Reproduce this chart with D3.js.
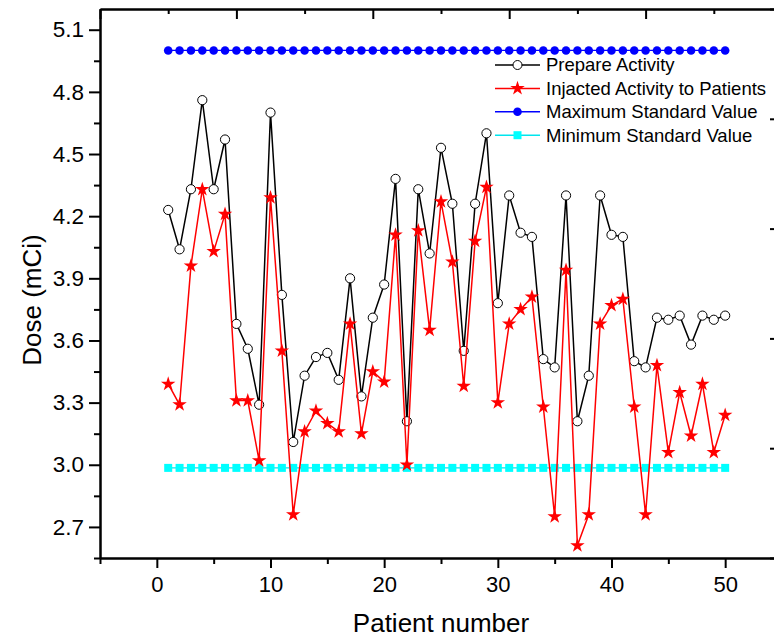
<!DOCTYPE html>
<html>
<head>
<meta charset="utf-8">
<script src="https://cdn.jsdelivr.net/npm/d3@7"></script>
<style>
  body { margin: 0; background: #fff; }
  svg { display: block; font-family: "Liberation Sans", Arial, sans-serif; }
</style>
</head>
<body>
<div class="DoseChart"></div>
<script>
// patient numbers and the two measured series (mCi)
const patients = d3.range(1, 51);
const prepareActivity = [
  4.23, 4.04, 4.33, 4.76, 4.33, 4.57, 3.68, 3.56, 3.29, 4.70,
  3.82, 3.11, 3.43, 3.52, 3.54, 3.41, 3.90, 3.33, 3.71, 3.87,
  4.38, 3.21, 4.33, 4.02, 4.53, 4.26, 3.55, 4.26, 4.60, 3.78,
  4.30, 4.12, 4.10, 3.51, 3.47, 4.30, 3.21, 3.43, 4.30, 4.11,
  4.10, 3.50, 3.47, 3.71, 3.70, 3.72, 3.58, 3.72, 3.70, 3.72
];
const injectedActivity = [
  3.39, 3.29, 3.96, 4.33, 4.03, 4.21, 3.31, 3.31, 3.02, 4.29,
  3.55, 2.76, 3.16, 3.26, 3.20, 3.16, 3.68, 3.15, 3.45, 3.40,
  4.11, 3.00, 4.13, 3.65, 4.27, 3.98, 3.38, 4.08, 4.34, 3.30,
  3.68, 3.75, 3.81, 3.28, 2.75, 3.94, 2.61, 2.76, 3.68, 3.77,
  3.80, 3.28, 2.76, 3.48, 3.06, 3.35, 3.14, 3.39, 3.06, 3.24
];
const maxStandard = patients.map(() => 5.0);
const minStandard = patients.map(() => 2.985);

const xMajorTicks = [0, 10, 20, 30, 40, 50];
const xMinorTicks = [-5, 5, 15, 25, 35, 45, 55];
const yMajorTicks = [2.7, 3.0, 3.3, 3.6, 3.9, 4.2, 4.5, 4.8, 5.1];
const yMinorTicks = [2.55, 2.85, 3.15, 3.45, 3.75, 4.05, 4.35, 4.65, 4.95];
const legendLabels = [
  "Prepare Activity",
  "Injacted Activity to Patients",
  "Maximum Standard Value",
  "Minimum Standard Value"
];

const width = 774, height = 640;
const margin = { top: 9, right: -8, bottom: 82, left: 100 };
const plotW = width - margin.left - margin.right;
const plotH = height - margin.top - margin.bottom;

const x = d3.scaleLinear().domain([-5, 55]).range([0, plotW]);
const y = d3.scaleLinear().domain([2.55, 5.2]).range([plotH, 0]);
// secondary (unlabelled) frame axes on top and right
const xTop = d3.scaleLinear().domain([0, 10]).range([0, plotW]);
const yRight = d3.scaleLinear().domain([0, 5]).range([plotH, 0]);

const svg = d3.select(".DoseChart")
  .append("svg")
  .attr("width", width)
  .attr("height", height);

const g = svg.append("g")
  .attr("transform", `translate(${margin.left},${margin.top})`);

function styleAxis(sel) {
  sel.select(".domain").attr("stroke", "#000").attr("stroke-width", 2);
  sel.selectAll(".tick line").attr("stroke", "#000").attr("stroke-width", 2);
  sel.selectAll("text").attr("fill", "#000");
}

// bottom axis
g.append("g")
  .attr("transform", `translate(0,${plotH})`)
  .call(d3.axisBottom(x).tickValues(xMinorTicks).tickSize(6).tickFormat("").tickSizeOuter(0))
  .call(styleAxis);
g.append("g")
  .attr("transform", `translate(0,${plotH})`)
  .call(d3.axisBottom(x).tickValues(xMajorTicks).tickSize(10).tickPadding(8).tickFormat(d3.format("d")).tickSizeOuter(0))
  .call(styleAxis)
  .selectAll("text")
  .style("font-size", "22px");

// left axis
g.append("g")
  .call(d3.axisLeft(y).tickValues(yMinorTicks).tickSize(6).tickFormat("").tickSizeOuter(0))
  .call(styleAxis);
g.append("g")
  .call(d3.axisLeft(y).tickValues(yMajorTicks).tickSize(11).tickPadding(5).tickFormat(d3.format(".1f")).tickSizeOuter(0))
  .call(styleAxis)
  .selectAll("text")
  .style("font-size", "22.5px");

// top axis, ticks pointing in
g.append("g")
  .call(d3.axisBottom(xTop).tickValues([1, 3, 5, 7, 9]).tickSize(5).tickFormat("").tickSizeOuter(0))
  .call(styleAxis);
g.append("g")
  .call(d3.axisBottom(xTop).tickValues([0, 2, 4, 6, 8, 10]).tickSize(10).tickFormat("").tickSizeOuter(0))
  .call(styleAxis);

// right axis (sits just past the page edge)
g.append("g")
  .attr("transform", `translate(${plotW},0)`)
  .call(d3.axisLeft(yRight).ticks(5).tickSize(12).tickFormat("").tickSizeOuter(0))
  .call(styleAxis);

// axis titles
svg.append("text")
  .attr("x", 441)
  .attr("y", 632)
  .attr("text-anchor", "middle")
  .style("font-size", "26px")
  .text("Patient number");

svg.append("text")
  .attr("transform", "rotate(-90)")
  .attr("x", -300)
  .attr("y", 41)
  .attr("text-anchor", "middle")
  .style("font-size", "26px")
  .text("Dose (mCi)");

const line = d3.line()
  .x((d, i) => x(patients[i]))
  .y(d => y(d));

const star = d3.symbol().type(d3.symbolStar).size(65);

// standard value lines
g.append("path").datum(maxStandard)
  .attr("d", line).attr("fill", "none").attr("stroke", "#0000ff").attr("stroke-width", 1.2);
g.selectAll(".maxDot").data(maxStandard).enter()
  .append("circle")
  .attr("cx", (d, i) => x(patients[i]))
  .attr("cy", d => y(d))
  .attr("r", 4.3)
  .attr("fill", "#0000ff");

g.append("path").datum(minStandard)
  .attr("d", line).attr("fill", "none").attr("stroke", "#00e5ee").attr("stroke-width", 1.2);
g.selectAll(".minSq").data(minStandard).enter()
  .append("rect")
  .attr("x", (d, i) => x(patients[i]) - 4)
  .attr("y", d => y(d) - 4)
  .attr("width", 8)
  .attr("height", 8)
  .attr("fill", "#00ffff");

// prepare activity
g.append("path").datum(prepareActivity)
  .attr("d", line).attr("fill", "none").attr("stroke", "#000").attr("stroke-width", 1.5);
g.selectAll(".prep").data(prepareActivity).enter()
  .append("circle")
  .attr("cx", (d, i) => x(patients[i]))
  .attr("cy", d => y(d))
  .attr("r", 4.6)
  .attr("fill", "#fff")
  .attr("stroke", "#000")
  .attr("stroke-width", 1);

// injected activity
g.append("path").datum(injectedActivity)
  .attr("d", line).attr("fill", "none").attr("stroke", "#ff0000").attr("stroke-width", 1.5);
g.selectAll(".inj").data(injectedActivity).enter()
  .append("path")
  .attr("d", star)
  .attr("transform", (d, i) => `translate(${x(patients[i])},${y(d)})`)
  .attr("fill", "#ff0000");

// legend
const legendColors = ["#000", "#ff0000", "#0000ff", "#00e5ee"];
const legend = svg.append("g");
legendLabels.forEach((label, i) => {
  const ly = 65 + i * 23.4;
  const row = legend.append("g").attr("transform", `translate(495,${ly})`);
  row.append("line")
    .attr("x1", 0).attr("x2", 45)
    .attr("stroke", legendColors[i]).attr("stroke-width", 1.5);
  if (i === 0) {
    row.append("circle").attr("cx", 22.5).attr("r", 4.5)
      .attr("fill", "#fff").attr("stroke", "#000");
  } else if (i === 1) {
    row.append("path").attr("d", star).attr("transform", "translate(22.5,0)").attr("fill", "#ff0000");
  } else if (i === 2) {
    row.append("circle").attr("cx", 22.5).attr("r", 4.3).attr("fill", "#0000ff");
  } else {
    row.append("rect").attr("x", 18.5).attr("y", -4).attr("width", 8).attr("height", 8).attr("fill", "#00ffff");
  }
  row.append("text")
    .attr("x", 51)
    .attr("dy", "0.35em")
    .style("font-size", "18.5px")
    .text(label);
});
</script>
</body>
</html>
